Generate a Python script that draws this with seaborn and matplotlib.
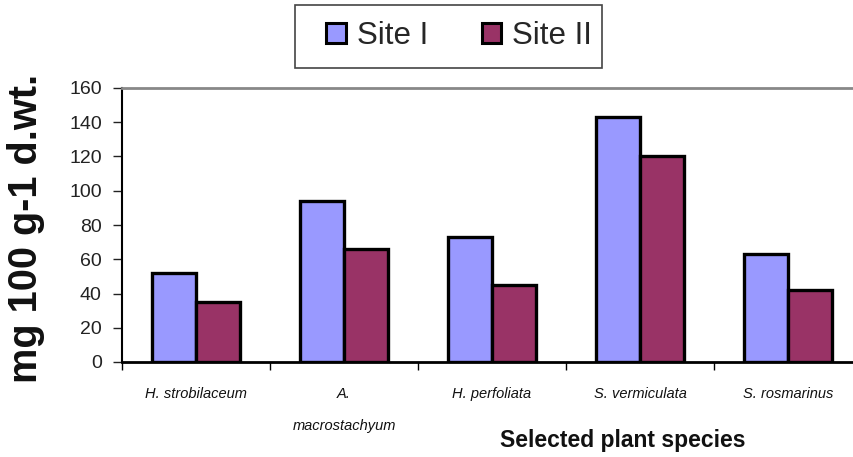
import matplotlib
matplotlib.use("Agg")
import matplotlib.pyplot as plt
import seaborn as sns
import pandas as pd
from matplotlib.patches import Rectangle
from matplotlib.ticker import FixedLocator

# Concentration by species and site (mg 100 g-1 d.wt.)
species = ["H. strobilaceum", "A.\nmacrostachyum", "H. perfoliata",
           "S. vermiculata", "S. rosmarinus"]
site_names = ["Site I", "Site II"]
site1_values = [52, 94, 73, 143, 63]
site2_values = [35, 66, 45, 120, 42]
y_ticks = [0, 20, 40, 60, 80, 100, 120, 140, 160]

df = pd.DataFrame({
    "species": species * 2,
    "site": [site_names[0]] * len(species) + [site_names[1]] * len(species),
    "value": site1_values + site2_values,
})

sns.set_theme(style="white")
plt.rcParams["font.family"] = ["Liberation Sans", "DejaVu Sans"]

W, H = 854, 457
fig = plt.figure(figsize=(W / 100, H / 100), dpi=100)
ax = fig.add_axes([122 / W, 95 / H, 740 / W, 274 / H])

sns.barplot(data=df, x="species", y="value", hue="site", order=species,
            hue_order=site_names, palette=["#9999FF", "#993366"],
            width=0.6, edgecolor="black", linewidth=2.4, saturation=1,
            ax=ax)

ax.set_xlim(-0.5, len(species) - 0.5)
ax.set_ylim(0, 160)
ax.set_yticks(y_ticks)
ax.tick_params(axis="y", direction="out", length=6.5, width=1, color="#222222",
               pad=8, labelsize=14, labelcolor="#222222", left=True)
ax.tick_params(axis="x", which="major", length=0, pad=18, labelsize=10.5)
ax.xaxis.set_minor_locator(FixedLocator([i - 0.5 for i in range(len(species) + 1)]))
ax.tick_params(axis="x", which="minor", direction="out", length=6, width=1,
               color="black", bottom=True)
for lbl in ax.get_xticklabels():
    lbl.set_fontstyle("italic")
    lbl.set_linespacing(2.6)
    lbl.set_color("#111111")

ax.spines["left"].set_color("black")
ax.spines["left"].set_linewidth(1.5)
ax.spines["bottom"].set_color("black")
ax.spines["bottom"].set_linewidth(2)
ax.spines["top"].set_color("#888888")
ax.spines["top"].set_linewidth(2)
ax.spines["right"].set_visible(False)

ax.set_xlabel("")
ax.set_ylabel("")
fig.text(26 / W, 1 - 228 / H, "mg 100 g-1 d.wt.", rotation=90,
         ha="center", va="center", fontsize=28.5, fontweight="bold", color="#111111")
fig.text(623 / W, 1 - 441 / H, "Selected plant species", ha="center",
         va="center", fontsize=16.5, fontweight="bold", color="#111111")

# Legend: frameless entries inside a drawn box
handles, labels = ax.get_legend_handles_labels()
ax.get_legend().remove()
leg = fig.legend(handles, labels, loc="center", ncol=2,
                 bbox_to_anchor=(459 / W, 1 - 36 / H), fontsize=22.5,
                 frameon=False, handlelength=0.62, handleheight=0.62,
                 handletextpad=0.35, columnspacing=1.72, borderpad=0,
                 borderaxespad=0)
for h in leg.legend_handles:
    h.set_edgecolor("black")
    h.set_linewidth(2.2)
fig.patches.append(Rectangle((295 / W, 1 - 68 / H), 307 / W, 63 / H,
                             transform=fig.transFigure, fill=False,
                             edgecolor="#444444", linewidth=1.2))

fig.savefig("out.png", dpi=100, facecolor="white")
